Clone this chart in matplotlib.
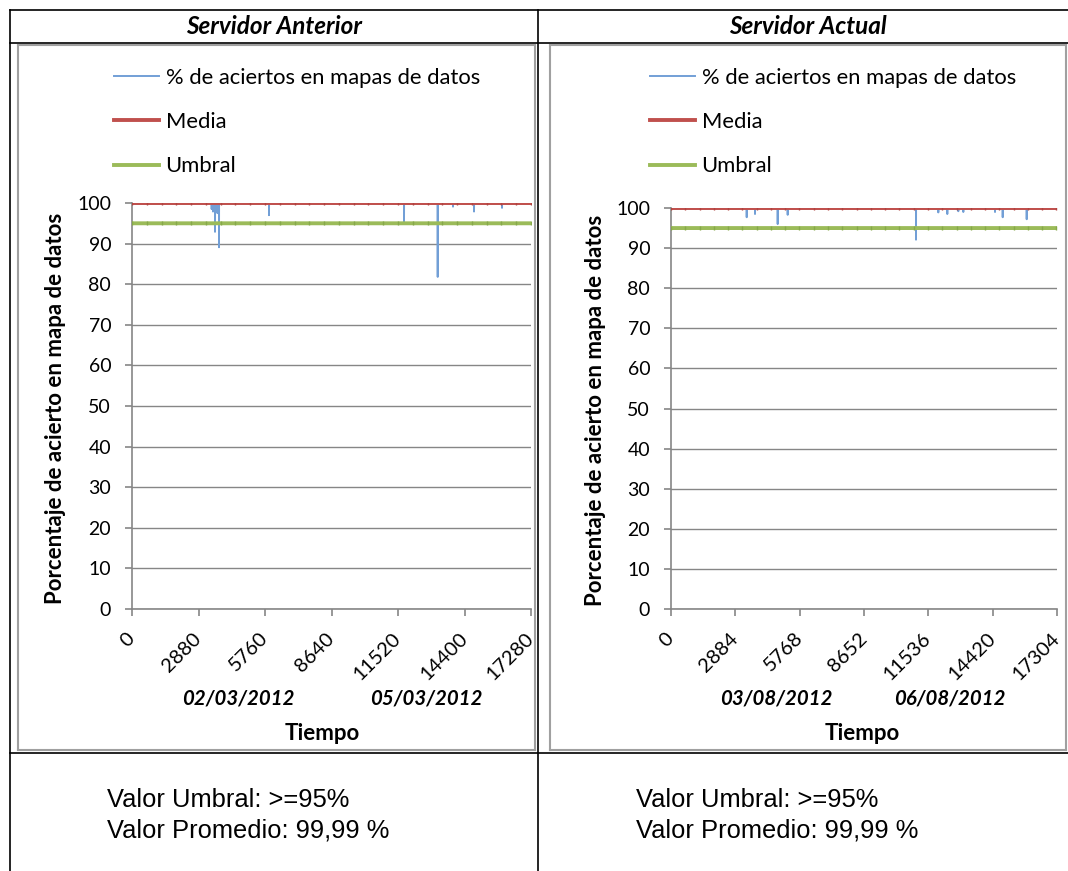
import matplotlib.pyplot as plt
import numpy as np
from matplotlib.lines import Line2D

W, H = 1068, 871

# Servidor Anterior
ant_n = 17280
ant_ticks = [0, 2880, 5760, 8640, 11520, 14400, 17280]
ant_spike_pos = [3450, 3508, 3595, 3700, 3768, 5933, 11780, 13240, 13902, 14812, 16025]
ant_spike_val = [98.5, 97.9, 92.9, 97.5, 89.1, 97.0, 95.2, 81.8, 99.1, 97.9, 98.8]
ant_dates = ["02/03/2012", "05/03/2012"]

# Servidor Actual
act_n = 17304
act_ticks = [0, 2884, 5768, 8652, 11536, 14420, 17304]
act_spike_pos = [3394, 3766, 4783, 5231, 10983, 11983, 12386, 12880, 13104, 14525, 14870, 15946]
act_spike_val = [97.7, 98.5, 96.0, 98.3, 92.1, 98.9, 98.5, 99.2, 99.0, 99.0, 97.7, 97.2]
act_dates = ["03/08/2012", "06/08/2012"]

nivel_normal = 100
media = 99.99
umbral = 95
y_ticks = list(range(0, 101, 10))

labels = ['% de aciertos en mapas de datos', 'Media', 'Umbral']
titles = ['Servidor Anterior', 'Servidor Actual']
resumen = ['Valor Umbral: >=95%', 'Valor Promedio: 99,99 %']

C_SERIE = '#729fd6'
C_MEDIA = '#c0504d'
C_UMBRAL = '#9bbb59'
C_GRIS = '#868686'
FONT = 'Lato'


def fx(px):
    return px / W


def fy(py):
    return 1 - py / H


def hline(fig, x0, x1, y, color='black', lw=1.2):
    fig.add_artist(Line2D([fx(x0), fx(x1)], [fy(y), fy(y)], color=color, lw=lw))


def vline(fig, x, y0, y1, color='black', lw=1.2):
    fig.add_artist(Line2D([fx(x), fx(x)], [fy(y0), fy(y1)], color=color, lw=lw))


def panel(fig, box, n, ticks, spike_pos, spike_val, dates, frame, leg_x, date_x, tiempo_x):
    x0, x1, ytop = box
    ax = fig.add_axes([fx(x0), fy(609), (x1 - x0) / W, (609 - ytop) / H])
    x = np.arange(n + 1)
    serie = np.full(n + 1, float(nivel_normal))
    serie[spike_pos] = spike_val

    l1, = ax.plot(x, serie, color=C_SERIE, lw=1.4, zorder=3)
    l2, = ax.plot(x, np.full(n + 1, media), color=C_MEDIA, lw=2.8, zorder=4,
                  marker='|', markevery=640, markersize=3, markeredgecolor='#b04440')
    l3, = ax.plot(x, np.full(n + 1, umbral), color=C_UMBRAL, lw=2.8, zorder=4,
                  marker='|', markevery=640, markersize=3, markeredgecolor='#86a84a')

    ax.set_xlim(0, n)
    ax.set_ylim(0, 100)
    ax.set_xticks(ticks)
    ax.set_xticklabels([str(t) for t in ticks], rotation=45, ha='right',
                       va='center', rotation_mode='anchor', fontsize=14.5, family=FONT)
    ax.set_yticks(y_ticks)
    ax.set_yticklabels([str(t) for t in y_ticks], fontsize=14, family=FONT)
    ax.yaxis.grid(True, color=C_GRIS, lw=1)
    ax.set_axisbelow(True)
    for s in ['top', 'right']:
        ax.spines[s].set_visible(False)
    for s in ['left', 'bottom']:
        ax.spines[s].set_color(C_GRIS)
        ax.spines[s].set_linewidth(1.2)
    ax.tick_params(axis='x', direction='out', length=5, width=1.2, color=C_GRIS, pad=14)
    ax.tick_params(axis='y', direction='out', length=5, width=1.2, color=C_GRIS, pad=10)

    fig.text(fx(x0 - 76), fy((ytop + 609) / 2 + 2), 'Porcentaje de acierto en mapa de datos',
             rotation=90, ha='center', va='center', fontsize=16,
             fontweight='bold', family=FONT)

    leg = ax.legend([l1, l2, l3], labels, loc='upper left',
                    bbox_to_anchor=(fx(leg_x), fy(68)),
                    bbox_transform=fig.transFigure, frameon=False,
                    prop={'family': FONT, 'size': 15.8}, handlelength=2.05,
                    handletextpad=0.3, labelspacing=1.1, borderpad=0,
                    borderaxespad=0)
    for h in leg.get_lines():
        h.set_marker('')

    for d, dx in zip(dates, date_x):
        fig.text(fx(dx), fy(699), d, ha='center', va='center',
                 fontsize=14.7, fontweight='bold', style='italic', family=FONT)
    fig.text(fx(tiempo_x), fy(733), 'Tiempo', ha='center', va='center',
             fontsize=16, fontweight='bold', family=FONT)

    # marco gris del grafico
    fl, fr = frame
    hline(fig, fl, fr, 45, color='#a0a0a0', lw=1.5)
    hline(fig, fl, fr, 750, color='#a0a0a0', lw=1.5)
    vline(fig, fl, 45, 750, color='#a0a0a0', lw=1.5)
    vline(fig, fr, 45, 750, color='#a0a0a0', lw=1.5)
    return ax


fig = plt.figure(figsize=(W / 100, H / 100), dpi=100)

panel(fig, (132, 531, 203), ant_n, ant_ticks, ant_spike_pos, ant_spike_val,
      ant_dates, (18, 535), 114, (238, 426), 322)
panel(fig, (671, 1057, 208), act_n, act_ticks, act_spike_pos, act_spike_val,
      act_dates, (550, 1066), 650, (776, 950), 862)

# tabla
hline(fig, 10, 1068, 10)
hline(fig, 10, 1068, 43)
hline(fig, 10, 1068, 753)
vline(fig, 10, 10, 871)
vline(fig, 538, 10, 871)

fig.text(fx(274), fy(27), titles[0], ha='center', va='center', fontsize=17.5,
         fontweight='bold', style='italic', family=FONT)
fig.text(fx(808), fy(27), titles[1], ha='center', va='center', fontsize=17.5,
         fontweight='bold', style='italic', family=FONT)

for xs in (107, 636):
    fig.text(fx(xs), fy(807), resumen[0], ha='left', va='baseline', fontsize=18.4,
             family='Liberation Sans')
    fig.text(fx(xs), fy(837), resumen[1], ha='left', va='baseline', fontsize=18.4,
             family='Liberation Sans')

fig.savefig('out.png', dpi=100)
